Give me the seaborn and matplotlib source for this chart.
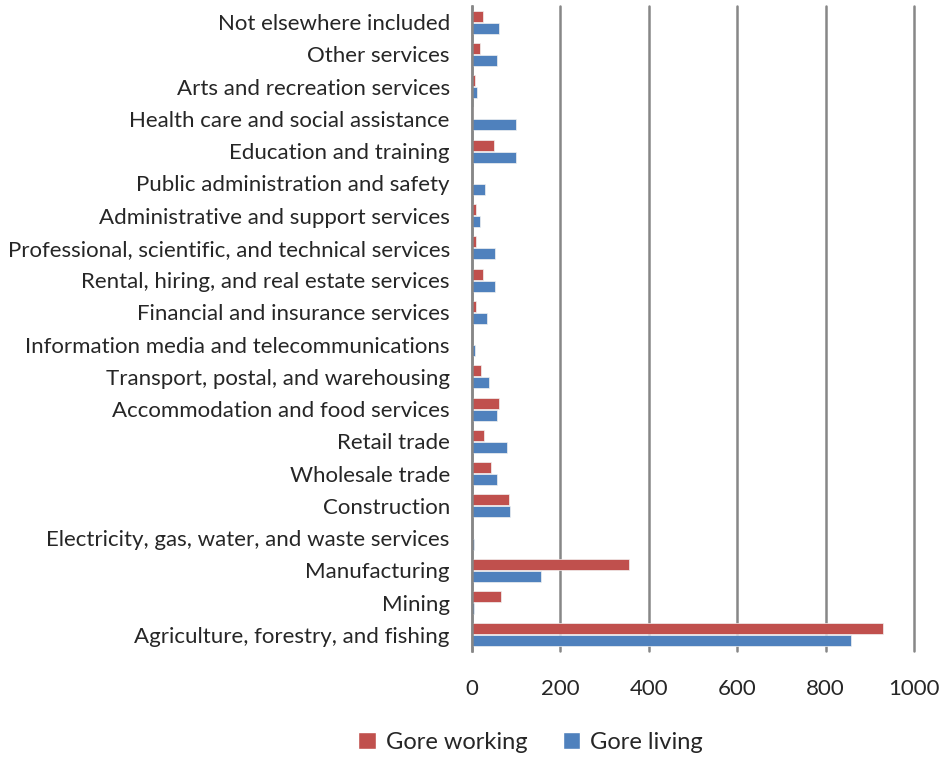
import seaborn as sns
import matplotlib.pyplot as plt
import pandas as pd
from matplotlib.patches import Patch

industries = [
    "Not elsewhere included",
    "Other services",
    "Arts and recreation services",
    "Health care and social assistance",
    "Education and training",
    "Public administration and safety",
    "Administrative and support services",
    "Professional, scientific, and technical services",
    "Rental, hiring, and real estate services",
    "Financial and insurance services",
    "Information media and telecommunications",
    "Transport, postal, and warehousing",
    "Accommodation and food services",
    "Retail trade",
    "Wholesale trade",
    "Construction",
    "Electricity, gas, water, and waste services",
    "Manufacturing",
    "Mining",
    "Agriculture, forestry, and fishing",
]
gore_working = [24, 18, 7, 3, 49, 0, 9, 9, 26, 9, 0, 21, 62, 27, 42, 84, 1, 355, 65, 929]
gore_living = [60, 57, 12, 99, 99, 30, 18, 52, 52, 33, 6, 39, 57, 79, 57, 85, 4, 157, 4, 857]

series = ["Gore working", "Gore living"]
colors = {"Gore working": "#C0504D", "Gore living": "#4F81BD"}

df = pd.DataFrame({
    "industry": industries * 2,
    "series": [series[0]] * len(industries) + [series[1]] * len(industries),
    "count": gore_working + gore_living,
})

sns.set_style("white")
plt.rcParams["font.family"] = ["Lato", "DejaVu Sans"]

fig = plt.figure(figsize=(9.44, 7.58), dpi=100)
ax = fig.add_axes([0.5, 0.1412, 0.4682, 0.8509])

sns.barplot(data=df, y="industry", x="count", hue="series", order=industries,
            hue_order=series, palette=colors, saturation=1, orient="h",
            width=0.74, gap=0.08, edgecolor="#f2f2f2", linewidth=0.5,
            legend=False, ax=ax)

ax.set_xlim(0, 1000)
ax.set_xticks(range(0, 1001, 200))
ax.grid(axis="x", color="#878787", linewidth=1.8)
for gl in ax.get_xgridlines():
    gl.set_clip_on(False)
ax.set_axisbelow(True)
for s in ["top", "right", "bottom"]:
    ax.spines[s].set_visible(False)
ax.spines["left"].set_color("#878787")
ax.spines["left"].set_linewidth(1.8)
ax.tick_params(axis="y", length=0, pad=16, labelsize=16)
ax.tick_params(axis="x", length=0, pad=20, labelsize=16)
ax.set_xlabel("")
ax.set_ylabel("")

handles = [Patch(facecolor=colors[s], edgecolor="white") for s in series]
fig.legend(handles, series, loc="center", bbox_to_anchor=(0.562, 0.021),
           ncol=2, frameon=False, fontsize=17, handlelength=0.75,
           handleheight=0.75, handletextpad=0.4, columnspacing=1.5)

fig.savefig("out.png", dpi=100)
